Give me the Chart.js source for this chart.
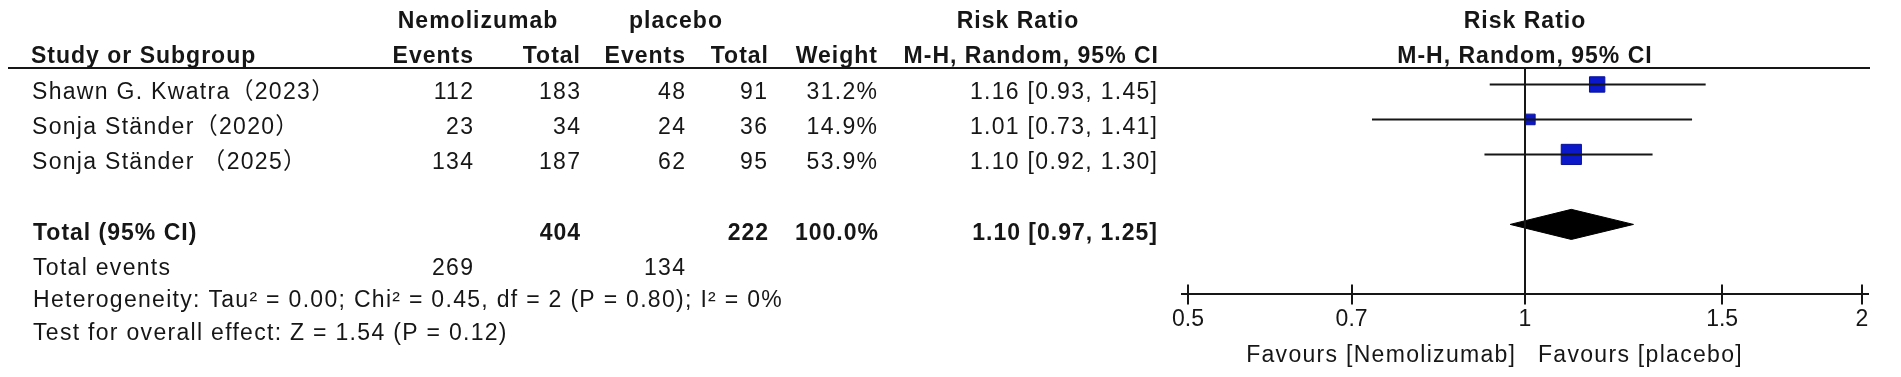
<!DOCTYPE html>
<html><head><meta charset="utf-8">
<script src="https://cdn.jsdelivr.net/npm/chart.js@4.4.1/dist/chart.umd.min.js"></script>
<style>html,body{margin:0;padding:0;background:#fff;overflow:hidden}canvas{display:block}</style>
</head><body>
<canvas id="c" width="1901" height="377"></canvas>
<script>
// ---- data ----
const studies = ['Shawn G. Kwatra（2023）', 'Sonja Ständer（2020）', 'Sonja Ständer （2025）'];
const nemoEvents = [112, 23, 134];
const nemoTotal = [183, 34, 187];
const placEvents = [48, 24, 62];
const placTotal = [91, 36, 95];
const weights = [31.2, 14.9, 53.9];
const rr = [1.16, 1.01, 1.10];
const ciLow = [0.93, 0.73, 0.92];
const ciHigh = [1.45, 1.41, 1.30];
const pooled = [1.10, 0.97, 1.25];
const totalNemo = 404, totalPlac = 222, eventsNemo = 269, eventsPlac = 134, totalWeight = 100.0;
const tickValues = [0.5, 0.7, 1, 1.5, 2];
const tickLabels = ['0.5', '0.7', '1', '1.5', '2'];
const heterogeneity = 'Heterogeneity: Tau² = 0.00; Chi² = 0.45, df = 2 (P = 0.80); I² = 0%';
const overall = 'Test for overall effect: Z = 1.54 (P = 0.12)';
const favLeft = 'Favours [Nemolizumab]', favRight = 'Favours [placebo]';

// ---- style / layout ----
const FONT = '"Liberation Sans", Arial, "Noto Sans CJK SC", sans-serif';
const INK = '#161616';
const BLUE = '#0b18c9';
const ROW_MIN = 0.53, ROW_MAX = 7, TOTAL_ROW = 5;
const AXIS_PAD = 0.0123;
const DIAMOND_HALF = 0.43;
const SQUARE_K = 2.75;

const ciText = (r, l, h) => r.toFixed(2) + ' [' + l.toFixed(2) + ', ' + h.toFixed(2) + ']';

const datasets = [];
datasets.push({data: [{x: 1, y: ROW_MIN}, {x: 1, y: ROW_MAX}], showLine: true, borderColor: INK, borderWidth: 2, pointRadius: 0});
studies.forEach((s, i) => datasets.push({data: [{x: ciLow[i], y: i + 1}, {x: ciHigh[i], y: i + 1}], showLine: true, borderColor: INK, borderWidth: 2, pointRadius: 0}));
datasets.push({data: rr.map((v, i) => ({x: v, y: i + 1})), pointStyle: 'rect',
  pointRadius: c => SQUARE_K * Math.sqrt(weights[c.dataIndex]) / Math.SQRT2,
  backgroundColor: BLUE, borderColor: '#0a1299', borderWidth: 1});
datasets.push({data: [
  {x: pooled[1], y: TOTAL_ROW}, {x: pooled[0], y: TOTAL_ROW - DIAMOND_HALF},
  {x: pooled[2], y: TOTAL_ROW}, {x: pooled[0], y: TOTAL_ROW + DIAMOND_HALF},
  {x: pooled[1], y: TOTAL_ROW}],
  showLine: true, fill: 'shape', backgroundColor: '#000', borderColor: '#000', borderWidth: 1, pointRadius: 0, tension: 0});

const textPlugin = {
  id: 'forestText',
  afterDraw(chart) {
    const ctx = chart.ctx, ys = chart.scales.y, xs = chart.scales.x;
    ctx.save();
    ctx.fillStyle = INK;
    ctx.textBaseline = 'alphabetic';
    const t = (str, x, y, align, bold) => {
      ctx.font = (bold ? 'bold ' : '') + '23px ' + FONT;
      const sp = bold ? 1 : 1.3;
      ctx.letterSpacing = sp + 'px';
      ctx.textAlign = align;
      ctx.fillText(str, align === 'right' ? x + sp : x, y);
    };
    // headers
    t('Nemolizumab', 478, 28.3, 'center', true);
    t('placebo', 676, 28.3, 'center', true);
    t('Risk Ratio', 1018, 28.3, 'center', true);
    t('Risk Ratio', xs.getPixelForValue(1), 28.3, 'center', true);
    t('Study or Subgroup', 31, 63.3, 'left', true);
    t('Events', 473, 63.3, 'right', true);
    t('Total', 580, 63.3, 'right', true);
    t('Events', 685, 63.3, 'right', true);
    t('Total', 768, 63.3, 'right', true);
    t('Weight', 877, 63.3, 'right', true);
    t('M-H, Random, 95% CI', 1158, 63.3, 'right', true);
    t('M-H, Random, 95% CI', xs.getPixelForValue(1), 63.3, 'center', true);
    // study rows
    studies.forEach((s, i) => {
      const y = ys.getPixelForValue(i + 1) + 14.5;
      t(s, 32, y, 'left', false);
      t(String(nemoEvents[i]), 473, y, 'right', false);
      t(String(nemoTotal[i]), 580, y, 'right', false);
      t(String(placEvents[i]), 685, y, 'right', false);
      t(String(placTotal[i]), 767, y, 'right', false);
      t(weights[i].toFixed(1) + '%', 877, y, 'right', false);
      t(ciText(rr[i], ciLow[i], ciHigh[i]), 1157, y, 'right', false);
    });
    // total row
    const ty = ys.getPixelForValue(TOTAL_ROW) + 15.5;
    t('Total (95% CI)', 33, ty, 'left', true);
    t(String(totalNemo), 580, ty, 'right', true);
    t(String(totalPlac), 768, ty, 'right', true);
    t(totalWeight.toFixed(1) + '%', 878, ty, 'right', true);
    t(ciText(pooled[0], pooled[1], pooled[2]), 1157, ty, 'right', true);
    // footer
    t('Total events', 33, 275, 'left', false);
    t(String(eventsNemo), 473, 275, 'right', false);
    t(String(eventsPlac), 685, 275, 'right', false);
    t(heterogeneity, 33, 306.7, 'left', false);
    t(overall, 33, 340, 'left', false);
    // favours labels
    const x1 = xs.getPixelForValue(1);
    t(favLeft, x1 - 10, 361.7, 'right', false);
    t(favRight, x1 + 13, 361.7, 'left', false);
    // header rule
    ctx.strokeStyle = INK;
    ctx.lineWidth = 2;
    ctx.beginPath();
    ctx.moveTo(8, 68); ctx.lineTo(1870, 68);
    // upper halves of axis ticks
    tickValues.forEach(v => {
      const px = Math.round(xs.getPixelForValue(v));
      ctx.moveTo(px, xs.top - 10); ctx.lineTo(px, xs.top);
    });
    ctx.stroke();
    ctx.restore();
  }
};

new Chart(document.getElementById('c'), {
  type: 'scatter',
  data: {datasets},
  plugins: [textPlugin],
  options: {
    responsive: false, animation: false, events: [],
    layout: {padding: {left: 1182, right: 33, top: 68, bottom: 43}},
    plugins: {legend: {display: false}, tooltip: {enabled: false}},
    scales: {
      x: {
        type: 'logarithmic',
        min: tickValues[0] * Math.exp(-AXIS_PAD),
        max: tickValues[tickValues.length - 1] * Math.exp(AXIS_PAD),
        afterBuildTicks: s => { s.ticks = tickValues.map(v => ({value: v})); },
        ticks: {autoSkip: false, maxRotation: 0, padding: 1, color: INK,
          font: {family: FONT, size: 23}, callback: v => { const i = tickValues.indexOf(v); return i >= 0 ? tickLabels[i] : ''; }},
        grid: {display: true, drawOnChartArea: false, drawTicks: true, tickLength: 10, color: INK, lineWidth: 2},
        border: {display: true, color: INK, width: 2}
      },
      y: {type: 'linear', display: false, reverse: true, min: ROW_MIN, max: ROW_MAX}
    }
  }
});
</script>
</body></html>
